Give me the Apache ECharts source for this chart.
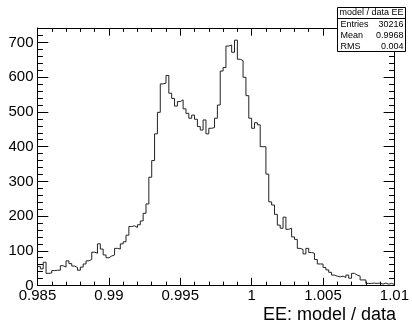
<!DOCTYPE html>
<html><head><meta charset="utf-8">
<script src="https://cdn.jsdelivr.net/npm/echarts@6/dist/echarts.min.js"></script>
<style>html,body{margin:0;padding:0;background:#fff}#c{width:412px;height:322px}</style>
</head><body><div id="c"></div>
<script>
// ---- data ----
const binLow = 0.985;
const binWidth = 0.0002;
const counts = [
  55, 48, 67, 35, 36, 43, 44, 44, 57, 53,
  71, 63, 56, 52, 44, 53, 62, 71, 75, 96,
  93, 120, 105, 88, 80, 85, 88, 107, 105, 120,
  126, 145, 170, 172, 167, 175, 186, 208, 235, 312,
  360, 437, 499, 581, 583, 605, 554, 539, 517, 530,
  535, 509, 496, 482, 491, 479, 458, 448, 477, 437,
  453, 455, 482, 520, 618, 628, 690, 693, 672, 707,
  652, 648, 600, 547, 482, 453, 469, 463, 400, 400,
  321, 241, 232, 205, 174, 165, 197, 162, 165, 140,
  133, 107, 104, 91, 107, 95, 93, 75, 62, 62,
  52, 45, 38, 30, 27, 25, 27, 23, 30, 21,
  35, 30, 27, 16, 16, 6, 6, 7, 6, 7,
  4, 7, 4, 6, 3
];
const xMin = 0.985, xMax = 1.01, xStep = 0.005;
const yMin = 0, yMax = 742, yStep = 100, yMinorStep = 20;
const xTitle = 'EE: model / data';
const statTitle = 'model / data EE';
const statLabels = ['Entries', 'Mean', 'RMS'];
const statValues = ['30216', '0.9968', '0.004'];

// ---- build ----
const FONT = '"Liberation Sans", Arial, Helvetica, sans-serif';
const data = counts.map((v, i) => [+(binLow + i * binWidth).toFixed(5), v]);
data.push([+(binLow + counts.length * binWidth).toFixed(5), counts[counts.length - 1]]);

const frameColor = '#000';
const L = 37.5, R = 396, T = 28, B = 285.5;

function xAxisDef(pos, labels) {
  return {
    type: 'value', position: pos, min: xMin, max: xMax, interval: xStep,
    axisLine: { show: true, onZero: false, lineStyle: { color: frameColor, width: 1 } },
    axisTick: { show: true, inside: true, length: 7.7, lineStyle: { color: frameColor } },
    minorTick: { show: true, splitNumber: 5, length: 3.9, lineStyle: { color: frameColor } },
    splitLine: { show: false },
    axisLabel: {
      show: labels, fontSize: 15, color: '#000', fontFamily: FONT, margin: 3,
      formatter: v => String(+v.toFixed(4))
    }
  };
}
function yAxisDef(pos, step, len, labels, line) {
  return {
    type: 'value', position: pos, min: yMin, max: yMax, interval: step,
    axisLine: { show: line, onZero: false, lineStyle: { color: frameColor, width: 1 } },
    axisTick: { show: true, inside: true, length: len, lineStyle: { color: frameColor } },
    splitLine: { show: false },
    axisLabel: {
      show: labels, fontSize: 15, color: '#000', fontFamily: FONT, margin: 4,
      formatter: v => (v % yStep === 0 ? String(v) : '')
    }
  };
}

const graphics = [];
// stats box
const bx = 337.5, by = 7.5, bw = 68, bh = 44;
graphics.push({ type: 'rect', z: 100, shape: { x: bx, y: by, width: bw, height: bh },
  style: { fill: '#fff', stroke: '#000', lineWidth: 1 } });
graphics.push({ type: 'line', z: 101, shape: { x1: bx, y1: 18.5, x2: bx + bw, y2: 18.5 },
  style: { stroke: '#000', lineWidth: 1 } });
graphics.push({ type: 'text', z: 101, style: { x: bx + bw / 2, y: 13, text: statTitle,
  align: 'center', verticalAlign: 'middle', font: '9px ' + FONT, fill: '#000' } });
statLabels.forEach((s, i) => {
  const yy = 24.5 + i * 11.1;
  graphics.push({ type: 'text', z: 101, style: { x: bx + 3, y: yy, text: s,
    align: 'left', verticalAlign: 'middle', font: '9px ' + FONT, fill: '#000' } });
  graphics.push({ type: 'text', z: 101, style: { x: bx + bw - 2, y: yy, text: statValues[i],
    align: 'right', verticalAlign: 'middle', font: '9px ' + FONT, fill: '#000' } });
});
// x-axis title
graphics.push({ type: 'text', z: 101, style: { x: R, y: 315, text: xTitle,
  align: 'right', verticalAlign: 'middle', font: '18px ' + FONT, fill: '#000' } });

const chart = echarts.init(document.getElementById('c'), null, { renderer: 'canvas' });
chart.setOption({
  animation: false,
  backgroundColor: '#fff',
  grid: { left: L, right: 412 - R, top: T, bottom: 322 - B, containLabel: false },
  xAxis: [xAxisDef('bottom', true), xAxisDef('top', false)],
  yAxis: [
    yAxisDef('left', yStep, 10.8, true, true),
    yAxisDef('left', yMinorStep, 5.4, false, false),
    yAxisDef('right', yStep, 10.8, false, true),
    yAxisDef('right', yMinorStep, 5.4, false, false)
  ],
  series: [{
    type: 'line', step: 'end', data: data, xAxisIndex: 0, yAxisIndex: 0,
    showSymbol: false, symbol: 'none',
    lineStyle: { color: '#222', width: 1 }
  }],
  graphic: graphics
});
</script>
</body></html>
